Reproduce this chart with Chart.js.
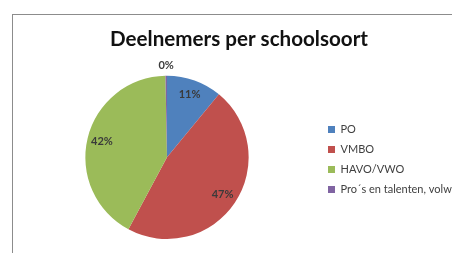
<!DOCTYPE html>
<html>
<head>
<meta charset="utf-8">
<script src="https://cdn.jsdelivr.net/npm/chart.js@4"></script>
<style>
    html, body { margin: 0; padding: 0; background: #fff; overflow: hidden; }
    .frame {
        position: absolute; left: 12px; top: 14px; width: 520px; height: 300px;
        border-left: 1px solid #8c8c8c; border-top: 1px solid #8c8c8c;
    }
    .chart-box { position: absolute; left: 15px; top: 0; width: 448px; height: 253px; }
</style>
</head>
<body>
<div class="frame"></div>
<div class="chart-box"><canvas id="pieChart"></canvas></div>
<script>
// Deelnemers per schoolsoort
const categories = ['PO', 'VMBO', 'HAVO/VWO', 'Pro´s en talenten, volwassenen'];
const shares = [11, 47, 42, 0.3];
const sliceColors = ['#4f81bd', '#c0504d', '#9bbb59', '#8064a2'];

const fontFamily = "Lato, 'Open Sans', sans-serif";

// Draw the percentage labels on the slices
const pieLabels = {
    id: 'pieLabels',
    afterDatasetsDraw(chart) {
        const ctx = chart.ctx;
        const meta = chart.getDatasetMeta(0);
        ctx.save();
        ctx.font = "bold 11px " + fontFamily;
        ctx.fillStyle = '#3a3a3a';
        ctx.textAlign = 'center';
        ctx.textBaseline = 'middle';
        meta.data.forEach((arc, i) => {
            const value = chart.data.datasets[0].data[i];
            const mid = (arc.startAngle + arc.endAngle) / 2;
            const dist = value < 1 ? arc.outerRadius + 10 : arc.outerRadius * 0.82;
            const x = arc.x + Math.cos(mid) * dist;
            const y = arc.y + Math.sin(mid) * dist;
            ctx.fillText(Math.round(value) + '%', x, y);
        });
        ctx.restore();
    }
};

// Move the legend down so it sits beside the middle of the pie
const legendShift = {
    id: 'legendShift',
    afterLayout(chart) {
        if (chart.legend) {
            chart.legend.top += 40;
            chart.legend.bottom += 40;
        }
    }
};

const ctx = document.getElementById('pieChart').getContext('2d');
new Chart(ctx, {
    type: 'pie',
    data: {
        labels: categories,
        datasets: [{
            data: shares,
            backgroundColor: sliceColors,
            borderWidth: 0
        }]
    },
    options: {
        responsive: true,
        maintainAspectRatio: false,
        animation: false,
        layout: {
            padding: { bottom: 14 }
        },
        plugins: {
            title: {
                display: true,
                text: 'Deelnemers per schoolsoort',
                color: '#111',
                font: { size: 20.6, weight: 'bold', family: fontFamily },
                padding: { top: 27, bottom: 24 }
            },
            legend: {
                position: 'right',
                maxWidth: 144,
                labels: {
                    boxWidth: 7,
                    boxHeight: 7,
                    padding: 9,
                    color: '#404040',
                    font: { size: 11, family: fontFamily }
                }
            },
            tooltip: { enabled: false }
        }
    },
    plugins: [pieLabels, legendShift]
});
</script>
</body>
</html>
